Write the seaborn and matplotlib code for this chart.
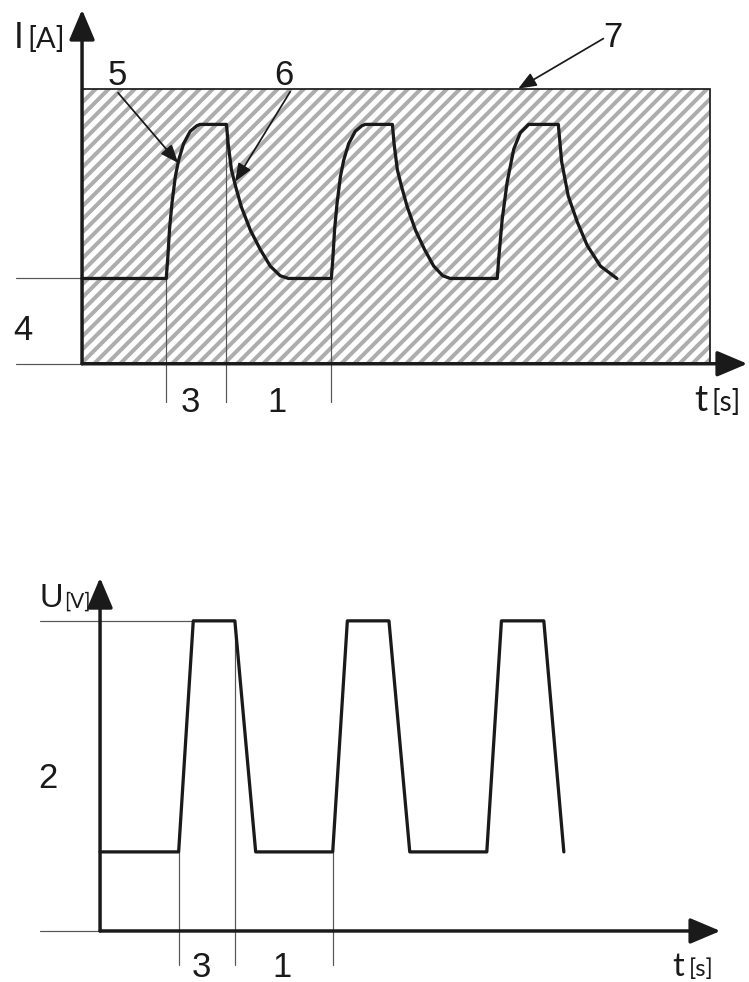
import numpy as np
import pandas as pd
import seaborn as sns
from matplotlib import pyplot as plt
from matplotlib.patches import Rectangle
from matplotlib.collections import LineCollection

# current I [A] vs time
t_cur = [0, 5.1, 5.2, 5.3, 5.45, 5.65, 5.85, 6.15, 6.55, 6.95, 7.15,
         8.75, 8.85, 9.05, 9.3, 9.65, 10.2, 10.8, 11.4, 12.0, 12.5,
         15.1, 15.2, 15.3, 15.45, 15.65, 15.85, 16.15, 16.55, 16.95, 17.15,
         18.8, 18.9, 19.1, 19.35, 19.7, 20.2, 20.75, 21.3, 21.85, 22.3,
         25.15, 25.25, 25.45, 25.75, 26.15, 26.55, 27.05,
         28.85, 29.05, 29.45, 30.0, 30.6, 31.4, 32.4]
i_cur = [3.1, 3.1, 3.9, 4.9, 5.85, 6.8, 7.4, 8.0, 8.45, 8.65, 8.7,
         8.7, 8.0, 7.05, 6.45, 5.7, 4.85, 4.15, 3.55, 3.2, 3.1,
         3.1, 3.9, 4.9, 5.85, 6.8, 7.4, 8.0, 8.45, 8.65, 8.7,
         8.7, 8.0, 7.05, 6.45, 5.7, 4.85, 4.15, 3.55, 3.2, 3.1,
         3.1, 3.9, 5.25, 6.6, 7.8, 8.4, 8.7,
         8.7, 7.35, 6.1, 5.15, 4.3, 3.55, 3.1]

# allowed current window (hatched area, 7)
win_t = [0, 38.06]
win_i = [0, 10]

# voltage U [V] vs time, lower diagram
t_volt = [0, 5.1, 6.05, 8.75, 10.1, 15.1, 16.05, 18.75, 20.1, 25.1, 26.05, 28.8, 30.1]
u_volt = [2.55, 2.55, 10, 10, 2.55, 2.55, 10, 10, 2.55, 2.55, 10, 10, 2.55]

DPI = 78
PX_T1, PX_I1 = 16.5, 27.5   # pixels per unit, upper diagram
sns.set_style("white")
plt.rcParams["font.family"] = ["Liberation Sans", "DejaVu Sans"]

fig = plt.figure(figsize=(749.4 / DPI, 982.4 / DPI), dpi=DPI)
ax1 = fig.add_axes([0, 1 - 430 / 982, 1, 430 / 982])
ax2 = fig.add_axes([0, 0, 1, 552 / 982])

ink = "#1a1a1a"
thin = "#555555"
head_axis = "-|>,head_length=0.85,head_width=0.36"
head_ref = "-|>,head_length=0.7,head_width=0.28"


def axis_arrow(ax, start, end):
    ax.annotate("", xy=end, xytext=start,
                arrowprops=dict(arrowstyle=head_axis, mutation_scale=28, lw=3.2,
                                color=ink, shrinkA=0, shrinkB=0))


def ref_arrow(ax, start, end):
    ax.annotate("", xy=end, xytext=start,
                arrowprops=dict(arrowstyle=head_ref, mutation_scale=20, lw=1.6,
                                color=ink, shrinkA=0, shrinkB=0))


# ---------- upper diagram ----------
frame = Rectangle((win_t[0], win_i[0]), win_t[1] - win_t[0], win_i[1] - win_i[0],
                  facecolor="none", edgecolor=ink, lw=1.6, zorder=2)
ax1.add_patch(frame)

# diagonal hatching, 45 deg on screen, ~13 px apart
offs = np.arange(-300, 660, 13.0)
segs = [[(o / PX_T1, 0), ((o + 320) / PX_T1, 320 / PX_I1)] for o in offs]
hatch = LineCollection(segs, colors="#adadad", linewidths=3.7, zorder=1)
ax1.add_collection(hatch)
hatch.set_clip_path(frame)

cur = pd.DataFrame({"t": t_cur, "I": i_cur})
sns.lineplot(data=cur, x="t", y="I", ax=ax1, color=ink, lw=3.0, sort=False,
             estimator=None, zorder=4)

# guide lines
ax1.plot([-4.0, 0], [i_cur[0], i_cur[0]], color=thin, lw=1.1, zorder=3)
ax1.plot([-4.0, 0], [0, 0], color=thin, lw=1.1, zorder=3)
ax1.plot([t_cur[1], t_cur[1]], [-1.38, i_cur[1]], color=thin, lw=1.1, zorder=3)
ax1.plot([t_cur[11], t_cur[11]], [-1.38, i_cur[11]], color=thin, lw=1.1, zorder=3)
ax1.plot([t_cur[21], t_cur[21]], [-1.38, i_cur[21]], color=thin, lw=1.1, zorder=3)

axis_arrow(ax1, (0, 0), (0, 12.87))
axis_arrow(ax1, (0, 0), (40.3, 0))

ref_arrow(ax1, (2.18, 9.85), (5.82, 7.3))
ref_arrow(ax1, (12.61, 9.89), (9.27, 6.62))
ref_arrow(ax1, (31.58, 11.82), (26.42, 10.0))

num = dict(fontsize=32, color=ink, ha="center", va="baseline")
ax1.text(2.12, 10.15, "5", **num)
ax1.text(12.24, 10.15, "6", **num)
ax1.text(32.18, 11.53, "7", **num)
ax1.text(-3.58, 0.87, "4", **num)
ax1.text(6.55, -1.745, "3", **num)
ax1.text(11.82, -1.745, "1", **num)
ax1.text(-3.55, 11.49, "I", fontsize=33, color=ink, ha="right", va="baseline")
ax1.text(-3.3, 11.49, "[A]", fontsize=27, color=ink, ha="left", va="baseline", family="Lato")
ax1.text(37.9, -1.7, "t", fontsize=34, color=ink, ha="right", va="baseline", family="Lato")
ax1.text(38.15, -1.7, "[s]", fontsize=26, color=ink, ha="left", va="baseline", family="Lato")

ax1.set_xlim(-82 / PX_T1, 667 / PX_T1)
ax1.set_ylim(-66 / PX_I1, 364 / PX_I1)
ax1.axis("off")

# ---------- lower diagram ----------
volt = pd.DataFrame({"t": t_volt, "U": u_volt})
sns.lineplot(data=volt, x="t", y="U", ax=ax2, color=ink, lw=3.0, sort=False,
             estimator=None, zorder=4)

ax2.plot([-3.9, t_volt[2]], [u_volt[2], u_volt[2]], color=thin, lw=1.1, zorder=3)
ax2.plot([-3.9, 0], [0, 0], color=thin, lw=1.1, zorder=3)
ax2.plot([t_volt[1], t_volt[1]], [-1.1, u_volt[1]], color=thin, lw=1.1, zorder=3)
ax2.plot([t_volt[3], t_volt[3]], [-1.1, u_volt[3]], color=thin, lw=1.1, zorder=3)
ax2.plot([t_volt[5], t_volt[5]], [-1.1, u_volt[5]], color=thin, lw=1.1, zorder=3)

axis_arrow(ax2, (0, 0), (0, 11.39))
axis_arrow(ax2, (0, 0), (40.26, 0))

ax2.text(-3.38, 4.61, "2", **num)
ax2.text(6.6, -1.475, "3", **num)
ax2.text(11.8, -1.475, "1", **num)
ax2.text(-2.38, 10.45, "U", fontsize=30, color=ink, ha="right", va="baseline")
ax2.text(-2.35, 10.45, "[V]", fontsize=19, color=ink, ha="left", va="baseline", family="Lato")
ax2.text(37.9, -1.45, "t", fontsize=30, color=ink, ha="right", va="baseline", family="Lato")
ax2.text(38.2, -1.45, "[s]", fontsize=22, color=ink, ha="left", va="baseline", family="Lato")

ax2.set_xlim(-100 / 15.4, 649 / 15.4)
ax2.set_ylim(-51 / 31, 501 / 31)
ax2.axis("off")

fig.savefig("out.png", dpi=DPI)
